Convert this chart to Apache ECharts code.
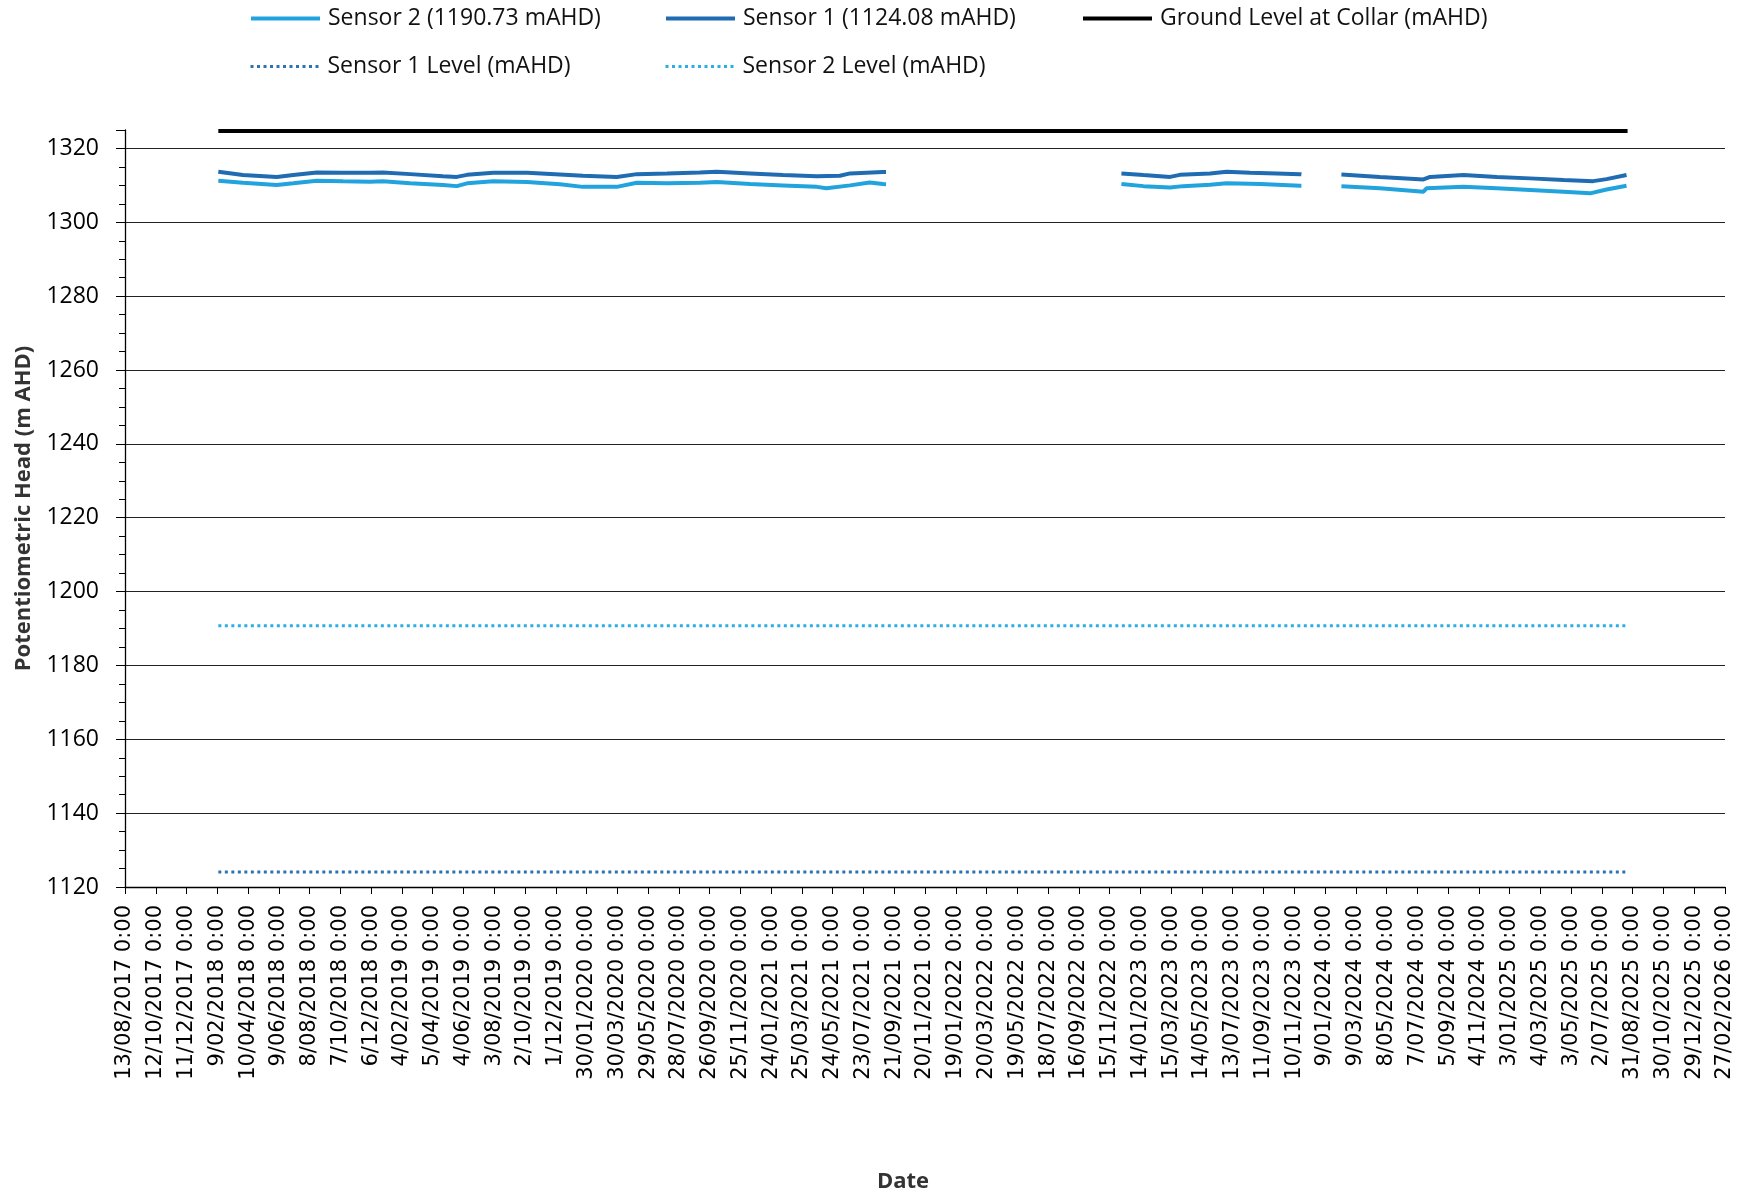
<!DOCTYPE html>
<html><head><meta charset="utf-8">
<script src="https://cdn.jsdelivr.net/npm/echarts@6/dist/echarts.min.js"></script>
<style>html,body{margin:0;padding:0;background:#fff}#chart{width:1756px;height:1198px}</style>
</head><body><div id="chart"></div>
<script>
// ---------- DATA ----------
const seriesNames = [
  'Sensor 2 (1190.73 mAHD)',
  'Sensor 1 (1124.08 mAHD)',
  'Ground Level at Collar (mAHD)',
  'Sensor 1 Level (mAHD)',
  'Sensor 2 Level (mAHD)'
];

// Sensor 1 piezometric head (null = data gap)
const sensor1Dates = [
  '2018-02-11','2018-02-14','2018-03-31','2018-06-05','2018-07-07','2018-08-22','2018-10-12','2018-12-04',
  '2018-12-29','2019-02-20','2019-04-25','2019-05-22','2019-06-11','2019-08-01','2019-10-06','2019-12-09',
  '2020-01-23','2020-03-29','2020-05-07','2020-07-05','2020-09-07','2020-10-10','2020-12-14','2021-02-16',
  '2021-04-23','2021-06-07','2021-06-27','2021-08-30','2021-09-05',
  '2022-03-01',
  '2022-12-08','2023-01-20','2023-03-13','2023-04-01','2023-05-30','2023-07-01','2023-08-16','2023-10-07',
  '2023-11-21','2023-11-24',
  '2024-01-01',
  '2024-02-10','2024-04-25','2024-07-19','2024-08-01','2024-10-05','2024-12-09','2025-02-12','2025-04-18',
  '2025-06-15','2025-07-11','2025-08-19'
];
const sensor1Values = [
  1313.7,1313.5,1312.8,1312.3,1312.8,1313.5,1313.4,1313.4,
  1313.5,1313.05,1312.5,1312.3,1312.85,1313.4,1313.4,1312.95,
  1312.6,1312.3,1313.05,1313.25,1313.5,1313.7,1313.25,1312.8,
  1312.5,1312.6,1313.25,1313.6,1313.6,
  null,
  1313.25,1312.8,1312.3,1312.85,1313.25,1313.7,1313.4,1313.25,
  1313.05,1313.0,
  null,
  1312.95,1312.3,1311.6,1312.3,1312.8,1312.3,1311.9,1311.45,
  1311.15,1311.7,1312.8
];

// Sensor 2 piezometric head (null = data gap)
const sensor2Dates = [
  '2018-02-11','2018-03-31','2018-06-05','2018-07-07','2018-08-22','2018-10-12','2018-12-04','2018-12-29',
  '2019-02-20','2019-04-25','2019-05-22','2019-06-11','2019-08-01','2019-10-06','2019-12-09','2020-01-23',
  '2020-03-29','2020-05-07','2020-07-05','2020-09-07','2020-10-10','2020-12-14','2021-02-16','2021-04-23',
  '2021-05-12','2021-06-27','2021-08-04','2021-08-30','2021-09-05',
  '2022-03-01',
  '2022-12-08','2023-01-20','2023-03-13','2023-04-07','2023-05-30','2023-07-01','2023-09-05','2023-11-21',
  '2023-11-24',
  '2024-01-01',
  '2024-02-10','2024-04-25','2024-07-19','2024-07-25','2024-10-05','2024-12-09','2025-02-12','2025-04-18',
  '2025-06-09','2025-07-11','2025-08-19'
];
const sensor2Values = [
  1311.25,1310.7,1310.1,1310.55,1311.25,1311.1,1311.0,1311.15,
  1310.55,1310.1,1309.8,1310.55,1311.1,1310.9,1310.3,1309.6,
  1309.6,1310.7,1310.55,1310.7,1310.9,1310.35,1310.0,1309.6,
  1309.2,1310.0,1310.8,1310.35,1310.3,
  null,
  1310.35,1309.8,1309.45,1309.8,1310.15,1310.55,1310.35,1309.9,
  1309.9,
  null,
  1309.8,1309.2,1308.3,1309.2,1309.6,1309.2,1308.75,1308.3,
  1307.85,1308.9,1309.9
];

// Constant reference levels
const levelDates = ['2018-02-11','2025-08-21'];
const groundLevel = [1324.7, 1324.7];
const sensor1Level = [1124.08, 1124.08];
const sensor2Level = [1190.73, 1190.73];

// Axis settings (x axis as Excel date serials, 60-day ticks)
const xStartDate = '2017-08-13';
const xEndDate = '2026-02-27';
const xTickDays = 60;
const yMin = 1120, yMax = 1325, yMajor = 20, yMinor = 5;

// ---------- HELPERS ----------
function toSerial(s) {
  const [y, m, d] = s.split('-').map(Number);
  return Date.UTC(y, m - 1, d) / 86400000 + 25569;
}
function serialLabel(v) {
  const dt = new Date(Math.round((v - 25569) * 86400000));
  const d = dt.getUTCDate();
  const m = String(dt.getUTCMonth() + 1).padStart(2, '0');
  return d + '/' + m + '/' + dt.getUTCFullYear() + ' 0:00';
}
function pairs(dates, vals) {
  return dates.map((d, i) => [toSerial(d), vals[i] === null ? '-' : vals[i]]);
}

const C_S2 = '#21A3DE';
const C_S1 = '#1F6CB2';
const C_S1L = '#2E73B0';
const C_S2L = '#2AAEE4';

const textFont = '"Open Sans", "Noto Sans", sans-serif';

function legendItem(name, left, top, color, type, width) {
  return {
    data: [name], left: left, top: top, orient: 'horizontal',
    padding: 0, itemWidth: 69, itemHeight: 14, selectedMode: false,
    lineStyle: { color: color, width: width, type: type, opacity: 1 },
    itemStyle: { color: 'rgba(0,0,0,0)', borderWidth: 0, opacity: 0 },
    textStyle: { fontFamily: textFont, fontSize: 23, color: '#111', padding: [0, 0, 0, 3] }
  };
}

const chart = echarts.init(document.getElementById('chart'), null, { renderer: 'canvas' });
chart.setOption({
  backgroundColor: '#fff',
  animation: false,
  legend: [
    legendItem(seriesNames[0], 249, 7, C_S2, 'solid', 4),
    legendItem(seriesNames[1], 664, 7, C_S1, 'solid', 4),
    legendItem(seriesNames[2], 1081, 7, '#000', 'solid', 4),
    legendItem(seriesNames[3], 249, 55, C_S1L, [3, 3.5], 3),
    legendItem(seriesNames[4], 664, 55, C_S2L, [3, 3.5], 3)
  ],
  grid: { left: 125, right: 31, top: 130, bottom: 309, containLabel: false },
  xAxis: {
    type: 'value',
    min: toSerial(xStartDate), max: toSerial(xEndDate), interval: xTickDays,
    axisLine: { show: true, onZero: false, lineStyle: { color: '#000', width: 1.3 } },
    axisTick: { show: true, length: 7, lineStyle: { color: '#000', width: 1 } },
    splitLine: { show: false },
    axisLabel: {
      rotate: 90, margin: 18, formatter: serialLabel,
      fontFamily: '"DejaVu Sans", sans-serif', fontSize: 21, color: '#000'
    },
    name: 'Date', nameLocation: 'middle', nameGap: 284,
    nameTextStyle: { fontFamily: textFont, fontWeight: 'bold', fontSize: 22, color: '#333', padding: [0, 44, 0, 0] }
  },
  yAxis: [
    {
      type: 'value', min: yMin, max: yMax, interval: yMajor,
      axisLine: { show: true, lineStyle: { color: '#000', width: 1.3 } },
      axisTick: { show: true, length: 9, lineStyle: { color: '#000', width: 1 } },
      splitLine: { show: true, showMaxLine: false, lineStyle: { color: '#222', width: 1 } },
      axisLabel: {
        margin: 26, fontFamily: textFont, fontSize: 23, color: '#000',
        formatter: v => (v % yMajor === 0 ? String(v) : '')
      },
      name: 'Potentiometric Head (m AHD)', nameLocation: 'middle', nameGap: 90,
      nameTextStyle: { fontFamily: textFont, fontWeight: 'bold', fontSize: 22, color: '#333' }
    },
    {
      type: 'value', min: yMin, max: yMax, interval: yMinor, position: 'left',
      axisLine: { show: false },
      axisTick: { show: true, length: 6, lineStyle: { color: '#000', width: 1 } },
      splitLine: { show: false },
      axisLabel: { show: false }
    }
  ],
  series: [
    {
      name: seriesNames[3], type: 'line', symbol: 'none', z: 2,
      data: pairs(levelDates, sensor1Level),
      lineStyle: { color: C_S1L, width: 3, type: [3, 3.5] }, itemStyle: { color: C_S1L }
    },
    {
      name: seriesNames[4], type: 'line', symbol: 'none', z: 2,
      data: pairs(levelDates, sensor2Level),
      lineStyle: { color: C_S2L, width: 3, type: [3, 3.5] }, itemStyle: { color: C_S2L }
    },
    {
      name: seriesNames[2], type: 'line', symbol: 'none', z: 3,
      data: pairs(levelDates, groundLevel),
      lineStyle: { color: '#000', width: 4 }, itemStyle: { color: '#000' }
    },
    {
      name: seriesNames[0], type: 'line', symbol: 'none', z: 4, connectNulls: false,
      data: pairs(sensor2Dates, sensor2Values),
      lineStyle: { color: C_S2, width: 4 }, itemStyle: { color: C_S2 }
    },
    {
      name: seriesNames[1], type: 'line', symbol: 'none', z: 5, connectNulls: false,
      data: pairs(sensor1Dates, sensor1Values),
      lineStyle: { color: C_S1, width: 4 }, itemStyle: { color: C_S1 }
    }
  ]
});
</script>
</body></html>
